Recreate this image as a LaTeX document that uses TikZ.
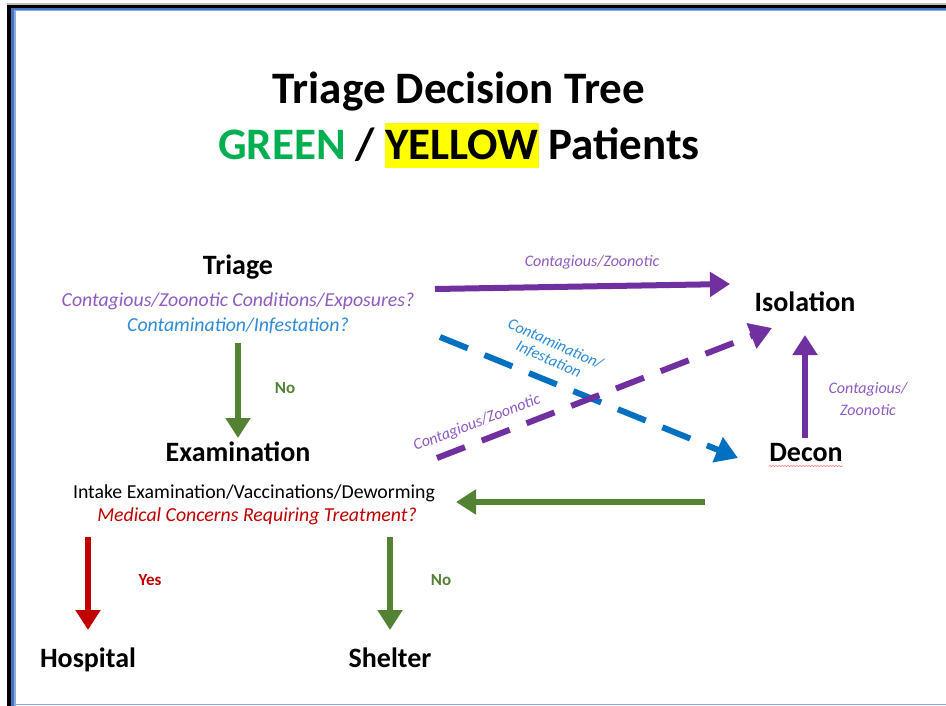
\documentclass[tikz,border=0pt]{standalone}
\usepackage{fontspec}
\setmainfont{Carlito}
\usetikzlibrary{arrows.meta,decorations.pathmorphing}
\definecolor{frameblue}{HTML}{4472C4}
\definecolor{framelight}{HTML}{8FAADC}
\definecolor{ttgreen}{HTML}{00B050}
\definecolor{hl}{HTML}{FFFF00}
\definecolor{purp}{HTML}{7030A0}
\definecolor{purplabel}{HTML}{8E5CC2}
\definecolor{bluearr}{HTML}{0070C0}
\definecolor{bluetext}{HTML}{2E8BD8}
\definecolor{grn}{HTML}{548235}
\definecolor{redd}{HTML}{C00000}
\tikzset{
  head/.style={font=\fontsize{28}{32}\selectfont\bfseries, anchor=base, inner sep=0pt},
  sub/.style={font=\fontsize{19.8}{23}\selectfont, anchor=base, inner sep=0pt},
  subit/.style={sub, font=\fontsize{19.8}{23}\selectfont\itshape},
  lbl/.style={font=\fontsize{16}{20}\selectfont\itshape, text=purplabel, inner sep=0pt, align=center},
  yn/.style={font=\fontsize{17}{20}\selectfont\bfseries, inner sep=0pt},
  fat/.style={line width=6pt, -{Triangle[length=20pt,width=24pt]}},
  dsh/.style={line width=6pt, dash pattern=on 30pt off 18pt, -{Triangle[length=22pt,width=26pt]}},
}
\begin{document}
\begin{tikzpicture}[x=1pt,y=-1pt]
\useasboundingbox (0,0) rectangle (946,706);
\fill[white] (0,0) rectangle (946,706);
% frame
\fill[black!25] (7,3.5) rectangle (946,4.8);
\fill[black] (7,4.8) rectangle (946,8);
\fill[black] (7,4.8) rectangle (11,706);
\fill[frameblue] (11,8) rectangle (946,10);
\fill[frameblue] (11,8) rectangle (14,706);
\fill[framelight] (14,10) rectangle (946,11.5);
\fill[framelight] (14,10) rectangle (15.5,706);
\fill[framelight] (14,703.5) rectangle (946,705);
% title
\node[font=\fontsize{45}{50}\selectfont\bfseries, anchor=base, inner sep=0pt] (title1) at (459,104) {Triage Decision Tree};
\node[font=\fontsize{45}{50}\selectfont\bfseries, anchor=base, inner sep=0pt] (title2) at (459,160)
  {\textcolor{ttgreen}{GREEN} / {\setlength{\fboxsep}{0pt}\colorbox{hl}{\rule[-8pt]{0pt}{45pt}YELLOW}} Patients};
% nodes
\node[head] (triage) at (238,274) {Triage};
\node[subit, text=purplabel] (q1) at (238,306) {Contagious/Zoonotic Conditions/Exposures?};
\node[subit, text=bluetext] (q2) at (238,331) {Contamination/Infestation?};
\node[head] (exam) at (238,461) {Examination};
\node[sub] (intake) at (254,498) {Intake Examination/Vaccinations/Deworming};
\node[subit, text=redd] (med) at (257,521) {Medical Concerns Requiring Treatment?};
\node[head] (hosp) at (88,667) {Hospital};
\node[head] (shel) at (390,667) {Shelter};
\node[head] (iso) at (805,311) {Isolation};
\node[head] (decon) at (806,461) {Decon};
\draw[red!50, line width=0.6pt, decorate, decoration={snake, amplitude=0.6pt, segment length=3pt}] ([yshift=-5pt]decon.base west) -- ([yshift=-5pt]decon.base east);
% connector anchors
\coordinate (a1) at (238,343); \coordinate (a2) at (238,438);
\coordinate (h1) at (88,537);  \coordinate (h2) at (88,630);
\coordinate (s1) at (390,537); \coordinate (s2) at (390,630);
\coordinate (d1) at (705,502); \coordinate (d2) at (456,502);
\coordinate (t1) at (435,289); \coordinate (t2) at (730,284);
\coordinate (b1) at (440,337); \coordinate (b2) at (738,458);
\coordinate (p1) at (437,458); \coordinate (p2) at (772,328);
\coordinate (v1) at (805,438); \coordinate (v2) at (805,335);
% arrows
\draw[fat, grn] (a1) -- (a2);
\node[yn, text=grn] (no1) at (285,388) {No};
\draw[fat, redd] (h1) -- (h2);
\node[yn, text=redd] (yes) at (150,580) {Yes};
\draw[fat, grn] (s1) -- (s2);
\node[yn, text=grn] (no2) at (441,580) {No};
\draw[fat, grn] (d1) -- (d2);
\draw[fat, purp] (t1) -- (t2);
\node[lbl] (l1) at (592,262) {Contagious/Zoonotic};
\draw[dsh, bluearr] (b1) -- (b2);
\node[lbl, text=bluetext, rotate=-24, font=\fontsize{16}{17}\selectfont\itshape] (l2) at (552,352) {Contamination/\\Infestation};
\draw[dsh, purp] (p1) -- (p2);
\node[lbl, rotate=21] (l3) at (477,423) {Contagious/Zoonotic};
\draw[fat, purp] (v1) -- (v2);
\node[lbl, font=\fontsize{16}{22}\selectfont\itshape] (l4) at (868,399) {Contagious/\\Zoonotic};
\end{tikzpicture}
\end{document}
